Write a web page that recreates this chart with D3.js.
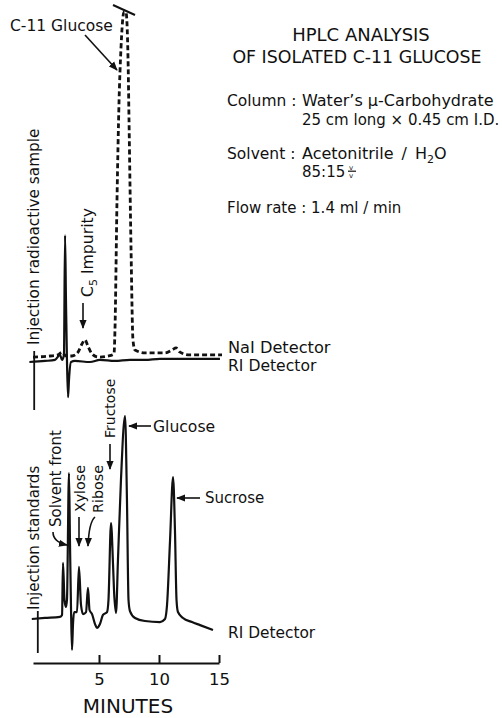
<!DOCTYPE html>
<html>
<head>
<meta charset="utf-8">
<script src="https://cdn.jsdelivr.net/npm/d3@7"></script>
<style>
body { margin: 0; background: #fff; }
text { font-family: "DejaVu Sans", sans-serif; fill: #111; }
</style>
</head>
<body>
<div id="chart"></div>
<script>
// HPLC of isolated C-11 glucose

var svgWidth = 502;
var svgHeight = 718;

// upper run : radioactive sample, time in minutes, signal in arbitrary units
var sampleRiTime   = [-0.8, 0.5, 1.33, 1.75, 1.92, 2.08, 2.17, 2.25, 2.33, 2.42, 2.5, 2.67, 3.0, 4.25, 5.08, 6.33, 7.58, 8.83, 10.08, 11.33, 12.58, 13.83, 15.08];
var sampleRiSignal = [0, 0.3, 0.6, 2.0, 0.6, 2.0, 36, 17, 0.6, -10, -5, 0, 0.3, 0, 0.6, 0.3, 0.6, 0.6, 0.9, 0.9, 0.9, 0.9, 0.9];

var sampleNaiTime   = [-0.5, 0.92, 1.58, 1.92, 2.25, 2.75, 3.25, 3.58, 3.83, 4.08, 4.42, 4.92, 5.75, 6.25, 6.33, 6.5, 6.67, 6.83, 7.08, 7.25, 7.42, 7.5, 7.67, 7.83, 8.0, 8.83, 10.5, 11.08, 11.42, 11.75, 12.58, 15.25];
var sampleNaiSignal = [1.4, 1.7, 2.0, 2.8, 1.7, 1.7, 2.8, 5.1, 6.3, 4.5, 2.3, 1.4, 1.7, 2.3, 9, 46, 74, 89, 99.4, 99.4, 86, 69, 32, 6.3, 3.4, 2.6, 2.6, 3.4, 4.0, 2.8, 2.0, 2.0];

// lower run : standards on the RI detector
var standardTime   = [-0.6, 0.5, 1.75, 1.92, 2.0, 2.125, 2.25, 2.33, 2.5, 2.58, 2.67, 2.75, 2.83, 2.92, 3.17, 3.33, 3.5, 3.67, 3.92, 4.08, 4.21, 4.42, 4.67, 4.83, 5.08, 5.33, 5.67, 5.79, 6.0, 6.17, 6.25, 6.42, 6.58, 6.83, 7.17, 7.33, 7.46, 7.58, 8.0, 8.83, 10.08, 10.5, 10.67, 10.92, 11.17, 11.33, 11.46, 11.58, 12.0, 12.75, 13.42, 14.5];
var standardSignal = [0.5, 1, 1.5, 2.5, 28, 9.8, 6.4, 9.8, 72, 39, 4.9, -14.7, -2.5, 3.9, 3.9, 26, 7.4, 2.9, 3.9, 15.7, 4.9, 2.9, -2, -3.9, -2, 2.5, 3.9, 9.8, 47.5, 27, 14.7, 3.4, 29.4, 68.6, 100, 58.8, 9.8, 4.4, 1, -0.5, -1, 0.5, 7.4, 39, 70, 44, 9.8, 3.9, 1, -1, -2.5, -4.9];

var tickMinutes = [5, 10, 15];

var svg = d3.select("#chart")
  .append("svg")
  .attr("width", svgWidth)
  .attr("height", svgHeight);

var xScale = d3.scaleLinear().domain([-0.5, 15]).range([33, 219]);
var yTop = d3.scaleLinear().domain([0, 100]).range([362, 10]);
var yLow = d3.scaleLinear().domain([0, 100]).range([620, 416]);

var defs = svg.append("defs");
defs.append("marker")
  .attr("id", "head")
  .attr("viewBox", "0 0 10 10")
  .attr("refX", 9).attr("refY", 5)
  .attr("markerWidth", 9).attr("markerHeight", 9)
  .attr("markerUnits", "userSpaceOnUse")
  .attr("orient", "auto")
  .append("path")
  .attr("d", "M0,1 L10,5 L0,9 Z")
  .attr("fill", "#111");

function trace(times, values, y) {
  return d3.line()
    .x(function(d) { return xScale(d); })
    .y(function(d, i) { return y(values[i]); })
    .curve(d3.curveMonotoneX)(times);
}

// ---- upper run
svg.append("path")
  .attr("d", trace(sampleNaiTime, sampleNaiSignal, yTop))
  .attr("fill", "none")
  .attr("stroke", "#111")
  .attr("stroke-width", 2.8)
  .attr("stroke-dasharray", "5,3");

svg.append("path")
  .attr("d", trace(sampleRiTime, sampleRiSignal, yTop))
  .attr("fill", "none")
  .attr("stroke", "#111")
  .attr("stroke-width", 2.2)
  .attr("stroke-linejoin", "round");

// pen stop mark at the top of the C-11 peak
svg.append("line")
  .attr("x1", 113).attr("y1", 5).attr("x2", 135).attr("y2", 15)
  .attr("stroke", "#111").attr("stroke-width", 2);

// injection mark
svg.append("line")
  .attr("x1", xScale(-0.4)).attr("x2", xScale(-0.4))
  .attr("y1", 351).attr("y2", 410)
  .attr("stroke", "#111").attr("stroke-width", 1.8);

// ---- lower run
svg.append("path")
  .attr("d", trace(standardTime, standardSignal, yLow))
  .attr("fill", "none")
  .attr("stroke", "#111")
  .attr("stroke-width", 2.2)
  .attr("stroke-linejoin", "round");

svg.append("line")
  .attr("x1", xScale(-0.1)).attr("x2", xScale(-0.1))
  .attr("y1", 611).attr("y2", 653)
  .attr("stroke", "#111").attr("stroke-width", 1.8);

// ---- time axis
var axis = svg.append("g")
  .attr("transform", "translate(0, 663)")
  .call(d3.axisBottom(xScale).tickValues(tickMinutes).tickSize(-8).tickSizeOuter(0).tickPadding(10));
axis.select(".domain").attr("stroke", "#111").attr("stroke-width", 2);
axis.selectAll(".tick line").attr("stroke", "#111").attr("stroke-width", 2);
axis.selectAll(".tick text")
  .attr("font-family", "DejaVu Sans, sans-serif")
  .attr("font-size", "16.5px")
  .attr("fill", "#111");

svg.append("text")
  .attr("x", 128).attr("y", 713)
  .attr("text-anchor", "middle")
  .attr("font-size", "20px")
  .text("MINUTES");

// ---- labels
function label(x, y, str, size) {
  return svg.append("text")
    .attr("x", x).attr("y", y)
    .attr("font-size", size + "px")
    .text(str);
}

function vlabel(x, y, size) {
  return svg.append("text")
    .attr("transform", "translate(" + x + "," + y + ") rotate(-90)")
    .attr("font-size", size + "px");
}

function arrow(d) {
  svg.append("path")
    .attr("d", d)
    .attr("fill", "none")
    .attr("stroke", "#111")
    .attr("stroke-width", 1.6)
    .attr("marker-end", "url(#head)");
}

label(10, 31, "C-11 Glucose", 15.5);
arrow("M85,35 L117,70");

label(228, 352.5, "NaI Detector", 16.2);
label(228, 371, "RI Detector", 15.6);
label(228, 638, "RI Detector", 15.4);

vlabel(39, 345, 15.3).text("Injection radioactive sample");
var c5 = vlabel(93, 297, 15.7);
c5.append("tspan").text("C");
c5.append("tspan").attr("font-size", "11px").attr("dy", 4).text("5");
c5.append("tspan").attr("dy", -4).text(" Impurity");
arrow("M83,303 L83,328");

vlabel(39, 610, 15.1).text("Injection standards");
vlabel(61, 527, 15).text("Solvent front");
arrow("M53,532 Q53,542 67,545");
vlabel(85, 512, 14.2).text("Xylose");
arrow("M79,517 L79,546");
vlabel(103, 513, 14.3).text("Ribose");
arrow("M95,517 Q89,522 88,546");
vlabel(115, 438, 14).text("Fructose");
arrow("M110,444 L110,469");

label(153, 432, "Glucose", 15.6);
arrow("M151,426 L129,426");
label(205, 503, "Sucrose", 15);
arrow("M200,498 L177,498");

// ---- method notes
svg.append("text").attr("x", 361).attr("y", 41).attr("text-anchor", "middle")
  .attr("font-size", "18px").text("HPLC ANALYSIS");
svg.append("text").attr("x", 357).attr("y", 63).attr("text-anchor", "middle")
  .attr("font-size", "17.4px").text("OF ISOLATED C-11 GLUCOSE");

label(227, 106, "Column :", 15.5);
label(302, 106, "Water\u2019s \u00b5-Carbohydrate", 16);
label(302, 125, "25 cm long \u00d7 0.45 cm I.D.", 15);

label(227, 159, "Solvent :", 15.5);
var solv = label(302, 159, "Acetonitrile", 16);
solv.append("tspan").attr("dx", 8).text("/");
solv.append("tspan").attr("dx", 8).text("H");
solv.append("tspan").attr("font-size", "11px").attr("dy", 4).text("2");
solv.append("tspan").attr("dy", -4).text("O");
label(302, 177, "85:15", 15);
label(349, 169.5, "v", 7);
label(349, 178, "v", 7);
svg.append("line").attr("x1", 348).attr("x2", 356).attr("y1", 171.2).attr("y2", 171.2)
  .attr("stroke", "#111").attr("stroke-width", 1.2);

label(227, 213, "Flow rate : 1.4 ml / min", 15);
</script>
</body>
</html>
